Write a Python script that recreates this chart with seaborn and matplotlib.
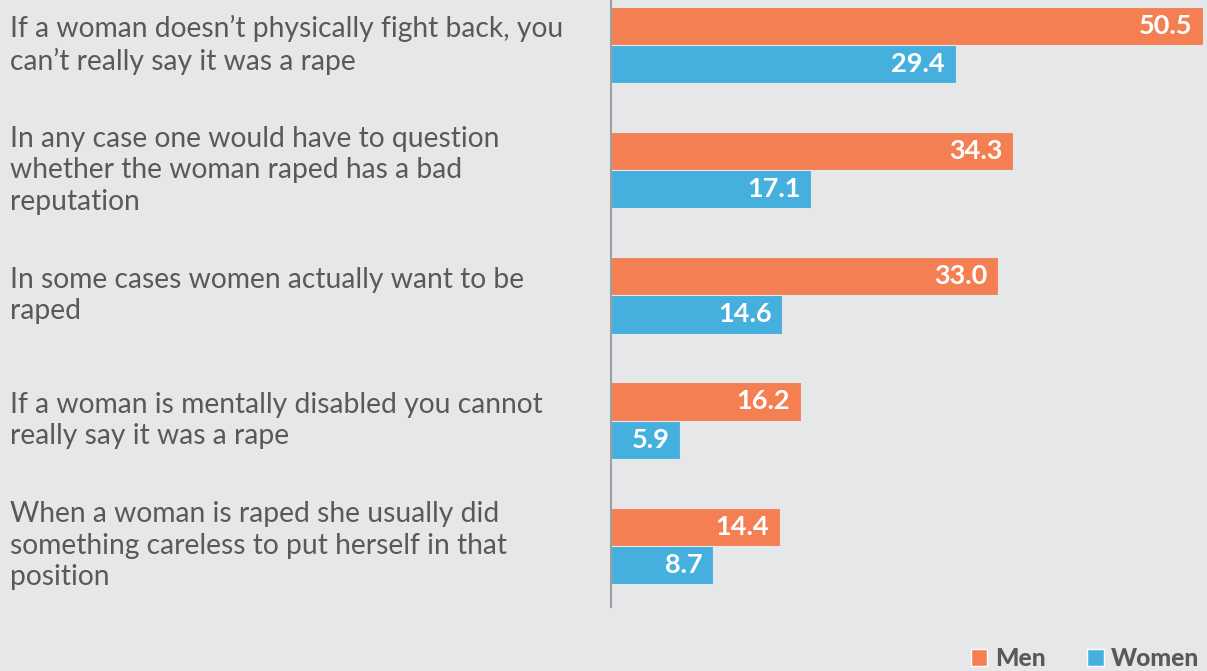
import pandas as pd
import matplotlib.pyplot as plt
import seaborn as sns
from matplotlib.patches import Patch
from matplotlib.transforms import blended_transform_factory

# Data
statements = [
    "If a woman doesn\u2019t physically fight back, you\ncan\u2019t really say it was a rape",
    "In any case one would have to question\nwhether the woman raped has a bad\nreputation",
    "In some cases women actually want to be\nraped",
    "If a woman is mentally disabled you cannot\nreally say it was a rape",
    "When a woman is raped she usually did\nsomething careless to put herself in that\nposition",
]
men = [50.5, 34.3, 33.0, 16.2, 14.4]
women = [29.4, 17.1, 14.6, 5.9, 8.7]
groups = ["Men", "Women"]
colors = ["#F47F53", "#45B0DE"]

df = pd.DataFrame({
    "statement": list(range(len(statements))) * 2,
    "group": ["Men"] * len(men) + ["Women"] * len(women),
    "value": men + women,
})

bg = "#E6E7E9"
txt = "#58595B"

sns.set_style("white")
plt.rcParams["font.family"] = ["Lato", "DejaVu Sans"]

fig = plt.figure(figsize=(12.07, 6.71), dpi=100, facecolor=bg)
ax = fig.add_axes([611 / 1207, 1 - 607 / 671, 596 / 1207, 607 / 671])
ax.set_facecolor(bg)

sns.barplot(data=df, y="statement", x="value", hue="group", orient="h",
            palette=colors, width=0.61, ax=ax, legend=False, saturation=1,
            edgecolor=bg, linewidth=0.8)

ax.set_xlim(0, 50.85)
ax.set_ylim(4.49, -0.36)
for s in ["top", "right", "bottom"]:
    ax.spines[s].set_visible(False)
ax.spines["left"].set_color("#9D9FA2")
ax.spines["left"].set_linewidth(1.5)
ax.set_xticks([])
ax.set_yticks([])
ax.set_xlabel("")
ax.set_ylabel("")

# value labels inside bar ends
for i, (m, w) in enumerate(zip(men, women)):
    ax.text(m - 0.9, i - 0.1525, f"{m:.1f}", ha="right", va="center",
            color="white", fontsize=19.5, fontweight="bold")
    ax.text(w - 0.9, i + 0.1525, f"{w:.1f}", ha="right", va="center",
            color="white", fontsize=19.5, fontweight="bold")

# statement labels on the left
trans = blended_transform_factory(fig.transFigure, ax.transData)
for i, s in enumerate(statements):
    ax.text(10 / 1207, i - 0.0, s, transform=trans, ha="left", va="center",
            fontsize=20.3, color=txt, linespacing=1.26)

handles = [Patch(facecolor=c, label=g) for c, g in zip(colors, groups)]
leg = fig.legend(handles=handles, loc="lower right", bbox_to_anchor=(1.012, -0.032),
                 ncol=2, frameon=False, handlelength=0.65, handleheight=0.65,
                 handletextpad=0.3, columnspacing=1.7,
                 prop={"family": "Lato", "weight": "black", "size": 17.8})
for t in leg.get_texts():
    t.set_color(txt)

fig.savefig("out.png", dpi=100, facecolor=bg)
